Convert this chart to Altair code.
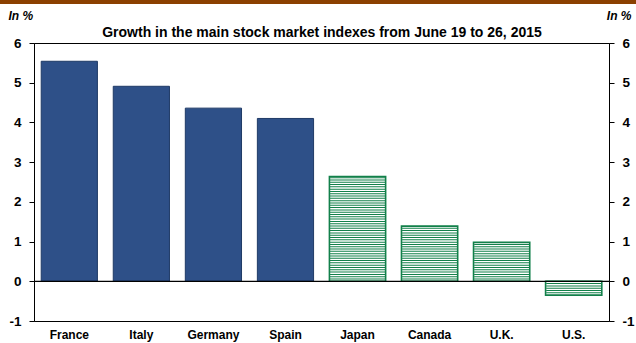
import altair as alt
import pandas as pd

countries = ["France", "Italy", "Germany", "Spain", "Japan", "Canada", "U.K.", "U.S."]
values = [5.54, 4.91, 4.36, 4.10, 2.64, 1.39, 0.98, -0.35]
groups = ["euro", "euro", "euro", "euro", "other", "other", "other", "other"]
y_ticks = [-1, 0, 1, 2, 3, 4, 5, 6]
title_text = "Growth in the main stock market indexes from June 19 to 26, 2015"

df = pd.DataFrame({"country": countries, "value": values, "group": groups})

FONT = "Liberation Sans"
BLUE = "#2E5088"
BLUE_EDGE = "#1F3A66"
GREEN = "#12804A"

xscale = alt.Scale(domain=countries, paddingInner=0.22, paddingOuter=0.1)
yscale = alt.Scale(domain=[-1, 6], nice=False, zero=False)

xenc = alt.X("country:N", sort=countries, scale=xscale,
             axis=alt.Axis(title=None, labelAngle=0, ticks=False, domain=False,
                           labelFont=FONT, labelFontSize=12, labelFontWeight="bold",
                           labelColor="black", labelPadding=8.5))


def yaxis(orient, tx, align):
    return alt.Axis(values=y_ticks, title="In %", titleAngle=0, titleAlign=align,
                    titleBaseline="alphabetic", titleX=tx, titleY=-24,
                    titleFont=FONT, titleFontSize=12, titleFontWeight="bold",
                    titleFontStyle="italic", titleColor="black",
                    labelExpr="datum.value + ''",
                    labelFont=FONT, labelFontSize=13.5, labelFontWeight="bold",
                    labelColor="black", labelPadding=8, tickSize=5, tickColor="black",
                    domainColor="black", grid=False, orient=orient)


base = alt.Chart(df)

euro_bars = base.transform_filter(alt.datum.group == "euro").mark_bar(
    color=BLUE, stroke=BLUE_EDGE, strokeWidth=1
).encode(x=xenc, y=alt.Y("value:Q", scale=yscale, axis=yaxis("left", -26, "left")))

stripes = base.transform_filter(alt.datum.group == "other").transform_calculate(
    stripe="sequence(0, datum.value, datum.value > 0 ? 0.058 : -0.058)"
).transform_flatten(["stripe"]).mark_tick(
    color=GREEN, thickness=1, size=55, opacity=1
).encode(x=xenc, y=alt.Y("stripe:Q", scale=yscale, axis=None))

other_bars = base.transform_filter(alt.datum.group == "other").mark_bar(
    fillOpacity=0, stroke=GREEN, strokeWidth=1.6
).encode(x=xenc, y=alt.Y("value:Q", scale=yscale, axis=yaxis("right", 22, "right")))

zero = alt.Chart(pd.DataFrame({"z": [0]})).mark_rule(color="black", strokeWidth=1.2).encode(
    y=alt.Y("z:Q", scale=yscale, axis=None)
)

top_band = alt.Chart(pd.DataFrame({"z": [0]})).mark_rect(color="#8B4000").encode(
    x=alt.value(-34), x2=alt.value(602), y=alt.value(-43), y2=alt.value(-39)
)

title = alt.Chart(pd.DataFrame({"t": [title_text]})).mark_text(
    font=FONT, fontSize=14, fontWeight="bold", color="black", align="center",
    baseline="alphabetic"
).encode(text="t:N", x=alt.value(288), y=alt.value(-6.5))

chart = alt.layer(top_band, euro_bars, stripes, other_bars, zero, title).resolve_scale(
    y="shared"
).resolve_axis(y="independent").properties(
    width=575, height=278,
    autosize=alt.AutoSizeParams(type="none"),
    padding={"left": 34, "top": 43, "right": 27, "bottom": 22},
    background="white",
).configure_view(stroke="black", strokeWidth=1)

chart.save("out.html", embed_options={"renderer": "svg", "actions": False})
